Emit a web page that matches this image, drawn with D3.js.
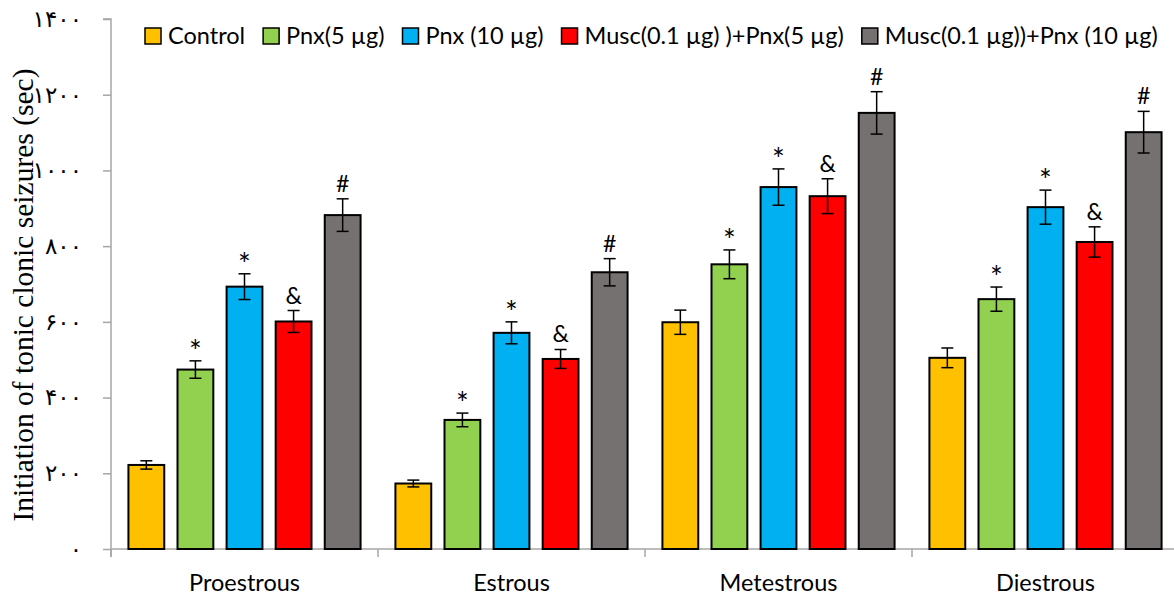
<!DOCTYPE html>
<html>
  <head>
    <script type="text/javascript" src="https://cdnjs.cloudflare.com/ajax/libs/d3/7.8.5/d3.min.js"></script>
    <style type="text/css">

html, body {
  margin: 0;
  background: #fff;
}

svg {
  display: block;
}

.axis path, .axis line {
  stroke: #a6a6a6;
  stroke-width: 1.5px;
}

    </style>
  </head>
  <body>
    <div id="chart"></div>
    <script type="text/javascript">

// data
var categories = ["Proestrous", "Estrous", "Metestrous", "Diestrous"];
var series = ["Control", "Pnx(5 \u00b5g)", "Pnx (10 \u00b5g)", "Musc(0.1 \u00b5g) )+Pnx(5 \u00b5g)", "Musc(0.1 \u00b5g))+Pnx (10 \u00b5g)"];
var colors = ["#ffc000", "#92d050", "#00b0f0", "#ff0000", "#767171"];

var control  = [222, 173, 599, 505];
var pnx5     = [474, 341, 752, 660];
var pnx10    = [693, 571, 956, 903];
var musc5    = [601, 502, 932, 811];
var musc10   = [882, 731, 1152, 1101];

var controlErr = [11, 9, 32, 26];
var pnx5Err    = [23, 18, 38, 32];
var pnx10Err   = [34, 29, 48, 45];
var musc5Err   = [29, 25, 46, 40];
var musc10Err  = [43, 36, 56, 55];

var marks = ["", "*", "*", "&", "#"];

var yTicks = [0, 200, 400, 600, 800, 1000, 1200, 1400];
var yTickLabels = ["\u06f0", "\u06f2\u06f0\u06f0", "\u06f4\u06f0\u06f0", "\u06f6\u06f0\u06f0", "\u06f8\u06f0\u06f0", "\u06f1\u06f0\u06f0\u06f0", "\u06f1\u06f2\u06f0\u06f0", "\u06f1\u06f4\u06f0\u06f0"];

var values = [control, pnx5, pnx10, musc5, musc10];
var errors = [controlErr, pnx5Err, pnx10Err, musc5Err, musc10Err];

var width = 1174, height = 597;
// the plot runs a little past the right edge, as in the original
var mLeft = 111, mRight = 1179, mTop = 19, mBottom = 549;

var svg = d3.select("#chart").append("svg")
    .attr("width", width)
    .attr("height", height);

var x0 = d3.scaleBand()
    .domain(categories)
    .range([mLeft, mRight]);

var x1 = d3.scaleBand()
    .domain(d3.range(series.length))
    .range([0, x0.bandwidth()])
    .paddingInner(0.27)
    .paddingOuter(0.355);

var y = d3.scaleLinear()
    .domain([0, 1400])
    .range([mBottom, mTop]);

// y axis
var yAxis = svg.append("g")
    .attr("class", "axis")
    .attr("transform", "translate(" + mLeft + ",0)")
    .call(d3.axisLeft(y)
      .tickValues(yTicks)
      .tickSize(8)
      .tickPadding(21)
      .tickFormat(function(d, i) { return yTickLabels[i]; }));
yAxis.select(".domain").attr("d", "M-8," + y(1400) + "H0V" + (mBottom + 8));
yAxis.selectAll("text")
    .attr("fill", "#000")
    .style("font-family", "'DejaVu Sans', sans-serif")
    .style("font-size", "23px");

// x axis: baseline with ticks at category boundaries
var xg = svg.append("g").attr("class", "axis");
xg.append("line")
    .attr("x1", mLeft).attr("x2", mRight)
    .attr("y1", mBottom).attr("y2", mBottom);
xg.selectAll("line.tick")
    .data(categories.map(function(c) { return x0(c); }).concat([mRight]))
  .enter().append("line")
    .attr("class", "tick")
    .attr("x1", function(d) { return d; })
    .attr("x2", function(d) { return d; })
    .attr("y1", mBottom)
    .attr("y2", mBottom + 8);

svg.selectAll("text.cat")
    .data(categories)
  .enter().append("text")
    .attr("class", "cat")
    .attr("x", function(d) { return x0(d) + x0.bandwidth() / 2; })
    .attr("y", 591)
    .attr("text-anchor", "middle")
    .style("font-family", "Lato, 'Open Sans', sans-serif")
    .style("font-size", "23.5px")
    .text(function(d) { return d; });

// bars
var groups = svg.selectAll("g.cat")
    .data(categories)
  .enter().append("g")
    .attr("class", "cat")
    .attr("transform", function(d) { return "translate(" + x0(d) + ",0)"; });

groups.each(function(c, ci) {
  var g = d3.select(this);
  var rows = series.map(function(s, si) {
    return {si: si, v: values[si][ci], e: errors[si][ci], mark: marks[si]};
  });

  g.selectAll("rect")
      .data(rows)
    .enter().append("rect")
      .attr("x", function(d) { return x1(d.si); })
      .attr("y", function(d) { return y(d.v); })
      .attr("width", x1.bandwidth())
      .attr("height", function(d) { return mBottom - y(d.v); })
      .attr("fill", function(d) { return colors[d.si]; })
      .attr("stroke", "#000")
      .attr("stroke-width", 2);

  var eb = g.selectAll("g.err")
      .data(rows)
    .enter().append("g")
      .attr("class", "err")
      .attr("stroke", "#000")
      .attr("stroke-width", 1.5)
      .attr("transform", function(d) { return "translate(" + (x1(d.si) + x1.bandwidth() / 2) + ",0)"; });
  eb.append("line")
      .attr("y1", function(d) { return y(d.v + d.e); })
      .attr("y2", function(d) { return y(d.v - d.e); });
  eb.append("line")
      .attr("x1", -6).attr("x2", 6)
      .attr("y1", function(d) { return y(d.v + d.e); })
      .attr("y2", function(d) { return y(d.v + d.e); });
  eb.append("line")
      .attr("x1", -6).attr("x2", 6)
      .attr("y1", function(d) { return y(d.v - d.e); })
      .attr("y2", function(d) { return y(d.v - d.e); });

  g.selectAll("text.mark")
      .data(rows.filter(function(d) { return d.mark; }))
    .enter().append("text")
      .attr("class", "mark")
      .attr("x", function(d) { return x1(d.si) + x1.bandwidth() / 2; })
      .attr("y", function(d) { return y(d.v + d.e) + (d.mark == "*" ? 1 : -7); })
      .attr("text-anchor", "middle")
      .style("font-family", "Lato, 'Open Sans', sans-serif")
      .style("font-size", function(d) { return d.mark == "*" ? "30px" : "23px"; })
      .text(function(d) { return d.mark; });
});

// y label
svg.append("text")
    .attr("transform", "translate(33,295) rotate(-90)")
    .attr("text-anchor", "middle")
    .style("font-family", "'Liberation Serif', 'Times New Roman', serif")
    .style("font-size", "29.5px")
    .text("Initiation of tonic clonic seizures (sec)");

// legend, laid out left to right from measured text widths
var legend = svg.append("g").attr("transform", "translate(145,36)");
var lx = 0;
series.forEach(function(s, i) {
  var item = legend.append("g").attr("transform", "translate(" + lx + ",0)");
  item.append("rect")
      .attr("x", 0).attr("y", -8)
      .attr("width", 16).attr("height", 16)
      .attr("fill", colors[i])
      .attr("stroke", "#000")
      .attr("stroke-width", 1.5);
  var t = item.append("text")
      .attr("x", 23)
      .attr("y", 8)
      .style("font-family", "Lato, 'Open Sans', sans-serif")
      .style("font-size", "23.5px")
      .text(s);
  lx += 23 + t.node().getComputedTextLength() + 18;
});

    </script>
  </body>
</html>
